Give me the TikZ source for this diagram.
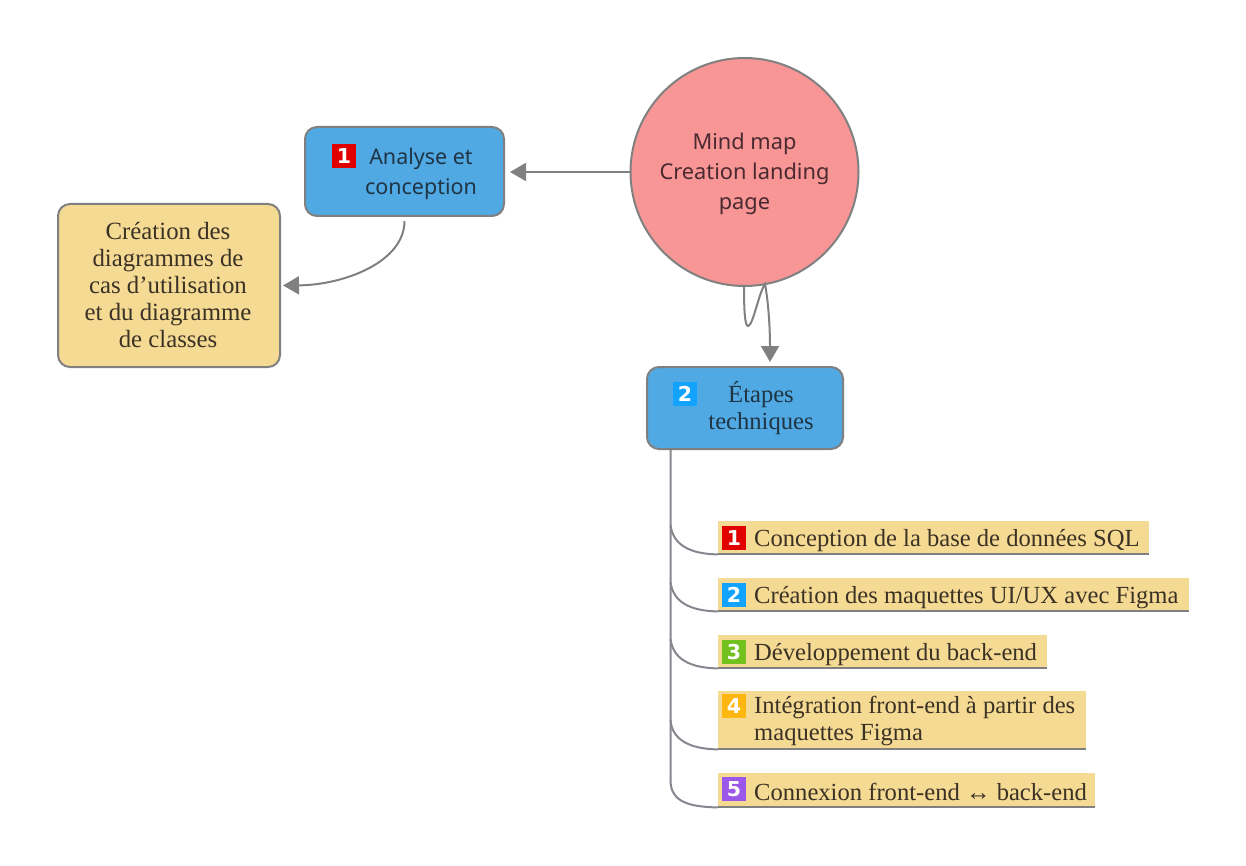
\documentclass[tikz,border=0pt]{standalone}
\usepackage{fontspec}
\setmainfont{Liberation Serif}
\newfontfamily\uisans{Noto Sans}
\newfontfamily\badgefont{DejaVu Sans}
\usetikzlibrary{arrows.meta,calc}
\definecolor{edgegray}{HTML}{808080}
\definecolor{trunkgray}{HTML}{86868E}
\definecolor{boxblue}{HTML}{50A9E3}
\definecolor{sand}{HTML}{F5DA94}
\definecolor{salmon}{HTML}{F89696}
\definecolor{inkblue}{HTML}{1F3445}
\definecolor{inkbrown}{HTML}{3B3225}
\definecolor{inkred}{HTML}{4A2A30}
\definecolor{bred}{HTML}{E00000}
\definecolor{bblue}{HTML}{12A3FF}
\definecolor{bgreen}{HTML}{72C11E}
\definecolor{bamber}{HTML}{FFB60F}
\definecolor{bviolet}{HTML}{9A57EA}
\tikzset{
  x=1pt,y=-1pt,
  conn/.style={draw=edgegray,line width=2pt},
  arr/.style={conn,-{Triangle[length=16pt,width=18pt]}},
  branch/.style={draw=trunkgray,line width=2pt},
  bluebox/.style={draw=edgegray,fill=boxblue,line width=2pt,rounded corners=12pt,inner sep=0pt},
  sandbox/.style={draw=edgegray,fill=sand,line width=2pt,rounded corners=12pt,inner sep=0pt},
  itembox/.style={fill=sand,inner sep=0pt,anchor=north west},
  underl/.style={draw=edgegray,line width=2pt},
  badge/.style={minimum size=24pt,inner sep=0pt,text=white,font=\badgefont\fontsize{20.5}{20.5}\selectfont\bfseries},
  itemtext/.style={anchor=west,align=left,inner sep=0pt,text=inkbrown,font=\fontsize{24.6}{27}\selectfont},
  bluetext/.style={inner sep=0pt,align=center,text=inkblue},
}
\begin{document}
\begin{tikzpicture}
\useasboundingbox (0,0) rectangle (1246,866);
% central circle
\node[circle,draw=edgegray,fill=salmon,line width=2pt,minimum size=228pt,inner sep=0pt] (hub) at (744.5,172) {};
\node[inner sep=0pt,align=center,text=inkred,font=\uisans\fontsize{21.8}{30}\selectfont] (hubT) at (744.5,174) {Mind map\\Creation landing\\page};
% level one boxes
\node[bluebox,minimum width=199pt,minimum height=89pt] (analyse) at (404.5,171.5) {};
\node[badge,fill=bred] (b1) at (344,156) {1};
\node[bluetext,font=\uisans\fontsize{21.5}{30}\selectfont] (analyseT) at (421,174) {Analyse et\\conception};
\node[sandbox,minimum width=222pt,minimum height=163pt] (creation) at (169,285.5) {};
\node[inner sep=0pt,align=center,text=inkbrown,font=\fontsize{24.8}{27}\selectfont] (creationT) at (168,284.5) {Création des\\diagrammes de\\cas d’utilisation\\et du diagramme\\de classes};
\node[bluebox,minimum width=196pt,minimum height=82pt] (etapes) at (745,408) {};
\node[badge,fill=bblue] (b2) at (685,394) {2};
\node[bluetext,font=\fontsize{24.6}{27}\selectfont] (etapesT) at (761,408.5) {Étapes\\techniques};
% items
\node[itembox,minimum width=431pt,minimum height=33pt] (i1) at (718,521) {};
\node[itembox,minimum width=471pt,minimum height=33pt] (i2) at (718,578) {};
\node[itembox,minimum width=329pt,minimum height=33pt] (i3) at (718,635) {};
\node[itembox,minimum width=368pt,minimum height=58pt] (i4) at (718,691) {};
\node[itembox,minimum width=377pt,minimum height=34pt] (i5) at (718,773) {};
\foreach \n in {i1,i2,i3,i4,i5} \draw[underl] (\n.south west) -- (\n.south east);
\node[badge,fill=bred] (c1) at (734,538) {1};
\node[badge,fill=bblue] (c2) at (734,595) {2};
\node[badge,fill=bgreen] (c3) at (734,652) {3};
\node[badge,fill=bamber] (c4) at (734,706) {4};
\node[badge,fill=bviolet] (c5) at (734,789) {5};
\node[itemtext] (t1) at (754,540.5) {Conception de la base de données SQL};
\node[itemtext] (t2) at (754,597.5) {Création des maquettes UI/UX avec Figma};
\node[itemtext] (t3) at (754,654.5) {Développement du back-end};
\node[itemtext] (t4) at (754,720.5) {Intégration front-end à partir des\\maquettes Figma};
\node[itemtext] (t5) at (754,792) {Connexion front-end ↔ back-end};
% connectors
\coordinate (tip2) at (770,362);
\coordinate (tr) at (670.5,450);
\draw[arr] (hub.west) -- ($(analyse.east |- hub.west)+(5,0)$);
\draw[arr] ($(analyse.south)+(0,4)$) .. controls (404.5,262) and (344,285) .. ($(creation.east)+(2,0)$);
\draw[arr] (744,286) .. controls (744,312) and (745,326) .. (748,326)
  .. controls (753,326) and (759,292) .. (765,284)
  .. controls (768,300) and (770,325) .. (tip2);
\draw[branch] (tr) -- (670.5,780) .. controls (670.5,798) and (682,807) .. (i5.south west);
\draw[branch] (670.5,525) .. controls (673,545) and (690,554) .. (i1.south west);
\draw[branch] (670.5,582) .. controls (673,602) and (690,611) .. (i2.south west);
\draw[branch] (670.5,639) .. controls (673,659) and (690,668) .. (i3.south west);
\draw[branch] (670.5,720) .. controls (672,740) and (690,749) .. (i4.south west);
\end{tikzpicture}
\end{document}
